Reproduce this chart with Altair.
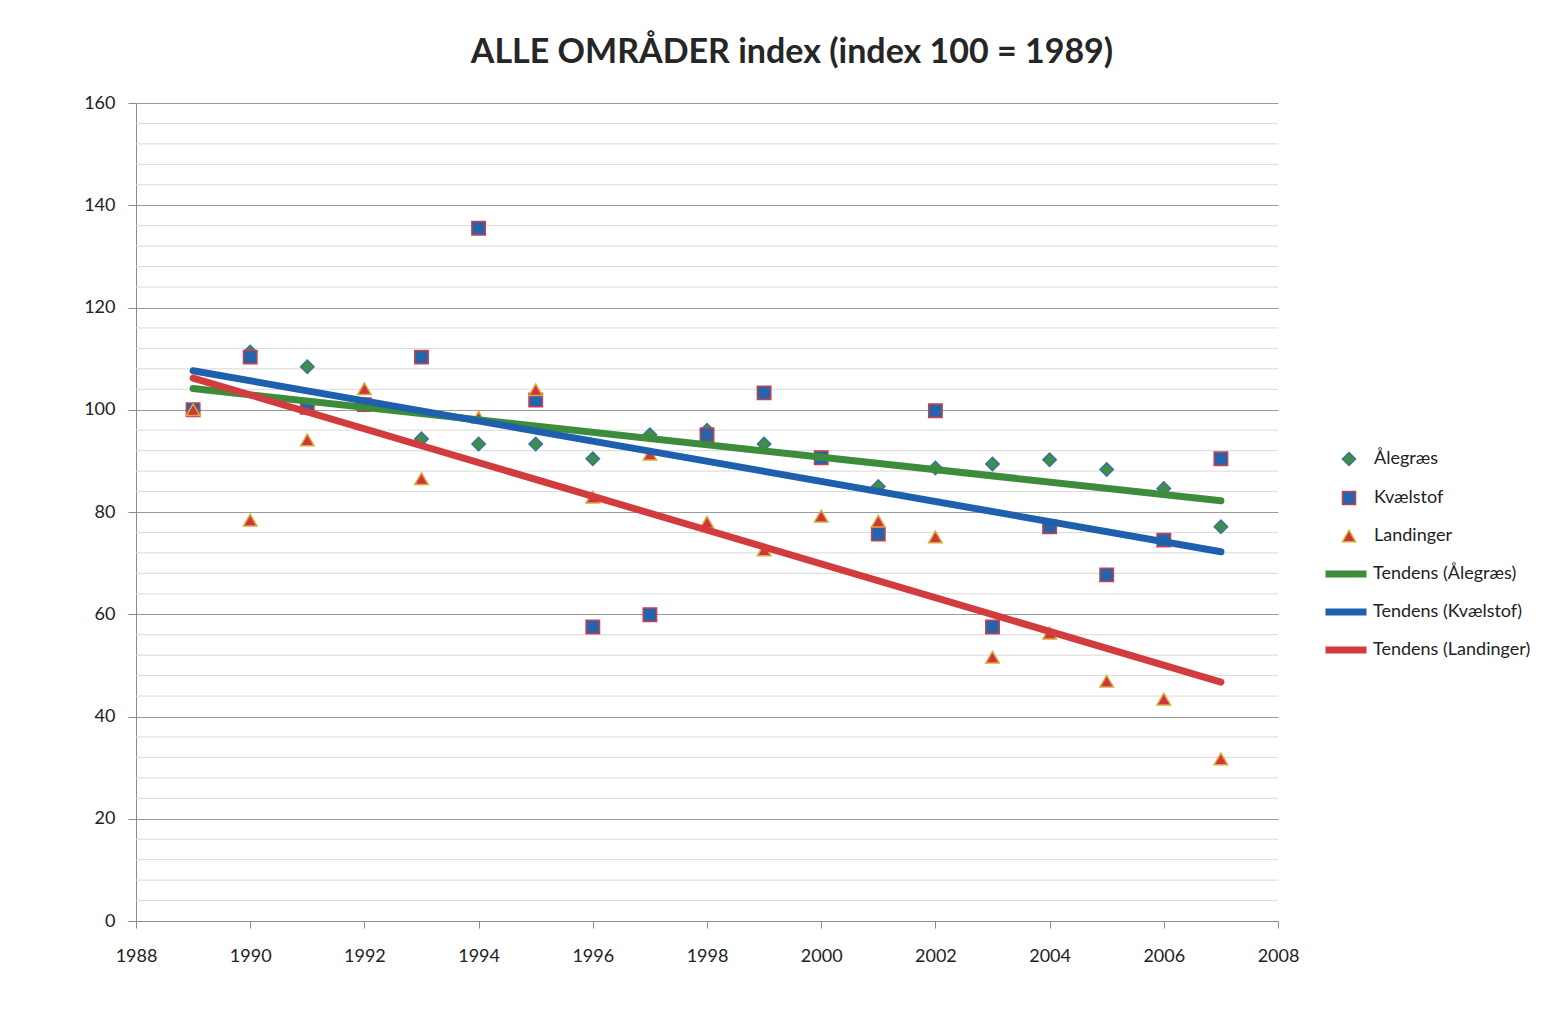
import altair as alt
import pandas as pd

years = list(range(1989, 2008))
alegraes = [100, 111.3, 108.4, 101.0, 94.3, 93.3, 93.3, 90.4, 95.1, 96.0, 93.3, 90.6, 85.0, 88.6, 89.4, 90.2, 88.3, 84.6, 77.1]
kvaelstof = [100, 110.3, 100.5, 101.0, 110.3, 135.5, 101.9, 57.5, 59.9, 95.1, 103.3, 90.6, 75.7, 99.8, 57.5, 77.1, 67.7, 74.5, 90.4]
landinger = [100, 78.4, 94.1, 104.1, 86.5, 98.5, 103.9, 82.9, 91.3, 78.0, 72.6, 79.2, 78.2, 75.1, 51.6, 56.3, 46.9, 43.4, 31.7]

series_names = ["Ålegræs", "Kvælstof", "Landinger"]
trend_names = ["Tendens (Ålegræs)", "Tendens (Kvælstof)", "Tendens (Landinger)"]
fill_colors = ["#3f8f45", "#2563ad", "#d1343a"]
stroke_colors = ["#3a6fa8", "#c9404a", "#d9a93a"]
trend_colors = ["#3c8c3c", "#1f60ae", "#d23c3f"]
shapes = ["diamond", "square", "triangle-up"]
minor_grid = [v for v in range(0, 161, 4) if v % 20 != 0]
major_ticks = list(range(0, 161, 20))
x_ticks = list(range(1988, 2009, 2))

rows = []
for name, vals in zip(series_names, [alegraes, kvaelstof, landinger]):
    for y, v in zip(years, vals):
        rows.append({"year": y, "value": v, "series": name})
df = pd.DataFrame(rows)
grid_df = pd.DataFrame({"v": minor_grid})

W, H = 1142, 818
FONT = "Lato"

xscale = alt.Scale(domain=[1988, 2008], nice=False)
yscale = alt.Scale(domain=[0, 160], nice=False)

yaxis = alt.Axis(
    values=major_ticks, title=None, grid=True, gridColor="#9a9a9a",
    labelFontSize=18, labelFont=FONT, labelColor="#222", tickSize=8,
    labelPadding=13, domainColor="#8a8a8a", tickColor="#8a8a8a")

minor = alt.Chart(grid_df).mark_rule(color="#d9d9d9", strokeWidth=1).encode(
    y=alt.Y("v:Q", scale=yscale, axis=yaxis),
    x=alt.value(0), x2=alt.value(W),
)

pts_legend = alt.Legend(
    title=None, orient="none", legendX=1204, legendY=347,
    labelFontSize=18, labelFont=FONT, labelColor="#222", symbolSize=170,
    symbolStrokeWidth=1.5, labelOffset=16, rowPadding=19,
)

points = alt.Chart(df).mark_point(filled=True, size=180, strokeWidth=1.5, opacity=1).encode(
    x=alt.X("year:Q", scale=xscale, axis=alt.Axis(
        values=x_ticks, format="d", title=None, grid=False, labelFlush=False,
        labelFontSize=18, labelFont=FONT, labelColor="#222", tickSize=7,
        labelPadding=19, domainColor="#8a8a8a", tickColor="#8a8a8a")),
    y=alt.Y("value:Q", scale=yscale, axis=yaxis),
    fill=alt.Fill("series:N", scale=alt.Scale(domain=series_names, range=fill_colors), legend=pts_legend),
    stroke=alt.Stroke("series:N", scale=alt.Scale(domain=series_names, range=stroke_colors), legend=pts_legend),
    shape=alt.Shape("series:N", scale=alt.Scale(domain=series_names, range=shapes), legend=pts_legend),
)

lines = alt.Chart(df).transform_regression(
    "year", "value", groupby=["series"], extent=[1989, 2007]
).transform_calculate(
    trend="'Tendens (' + datum.series + ')'"
).mark_line(strokeWidth=7, strokeCap="round").encode(
    x=alt.X("year:Q", scale=xscale),
    y=alt.Y("value:Q", scale=yscale),
    color=alt.Color("trend:N", scale=alt.Scale(domain=trend_names, range=trend_colors),
                    legend=alt.Legend(title=None, orient="none", legendX=1186, legendY=447,
                                      symbolType="stroke", symbolSize=1681, symbolStrokeWidth=7,
                                      labelFontSize=18, labelFont=FONT, labelColor="#222",
                                      labelOffset=3, rowPadding=0)),
    detail="series:N",
)

chart = alt.layer(minor, points, lines).properties(
    width=W, height=H,
    background="white",
    autosize=alt.AutoSizeParams(type="none"),
    padding={"left": 128, "top": 95, "right": 260, "bottom": 90},
    title=alt.TitleParams("ALLE OMRÅDER index (index 100 = 1989)", font=FONT, fontSize=34,
                          fontWeight="bold", color="#262626", anchor="middle", dx=85, offset=24),
).resolve_scale(color="independent").configure_view(stroke=None)

chart.save("out.html", embed_options={"renderer": "svg", "actions": False})
